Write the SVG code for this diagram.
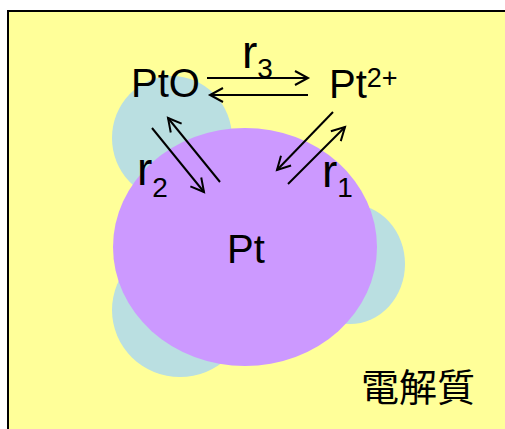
<svg xmlns="http://www.w3.org/2000/svg" width="505" height="429" viewBox="0 0 505 429">
<style>
.t{font-family:"Liberation Sans",Arial,sans-serif;fill:#000}
.c{fill:#BADFE1}
.ln{stroke:#000;stroke-width:2;fill:none;marker-end:url(#ah)}
</style>
<defs>
<marker id="ah" markerUnits="userSpaceOnUse" markerWidth="30" markerHeight="30" refX="0" refY="0" viewBox="-15 -15 30 30" orient="auto" overflow="visible">
<path d="M -13 -7 L 0 0 L -13 7" fill="none" stroke="#000" stroke-width="2"/>
</marker>
</defs>
<rect x="8" y="11" width="600" height="500" fill="#FFFF99"/>
<path d="M 8 429 L 8 11 L 505 11" fill="none" stroke="#000" stroke-width="2"/>
<g id="oxide">
<ellipse class="c" cx="172" cy="138" rx="60" ry="62"/>
<ellipse class="c" cx="350" cy="264" rx="55" ry="60"/>
<ellipse class="c" cx="180" cy="310" rx="68" ry="67"/>
</g>
<g id="pt">
<ellipse cx="245" cy="247" rx="132" ry="119" fill="#CC99FF"/>
<text class="t" x="227" y="263" font-size="40">Pt</text>
</g>
<g id="pto"><text class="t" x="131" y="97" font-size="40">PtO</text></g>
<g id="pt2"><text class="t" x="329" y="98" font-size="40">Pt<tspan font-size="27" dy="-11">2+</tspan></text></g>
<g id="connectors">
<line class="ln" x1="207" y1="78" x2="308" y2="78"/>
<line class="ln" x1="308" y1="95" x2="210" y2="95"/>
<line class="ln" x1="152" y1="128" x2="204" y2="192"/>
<line class="ln" x1="220" y1="182" x2="168" y2="118"/>
<line class="ln" x1="333" y1="112" x2="277" y2="170"/>
<line class="ln" x1="288" y1="184" x2="345" y2="127"/>
</g>
<g id="labels">
<text class="t" x="242" y="68" font-size="46">r<tspan font-size="28" dy="10">3</tspan></text>
<text class="t" x="137" y="185" font-size="46">r<tspan font-size="28" dy="12">2</tspan></text>
<text class="t" x="322" y="187" font-size="46">r<tspan font-size="28" dy="10">1</tspan></text>
<text x="361" y="401" font-size="38" font-family="'Noto Sans CJK TC','Noto Sans CJK JP',sans-serif">電解質</text>
</g>
</svg>
